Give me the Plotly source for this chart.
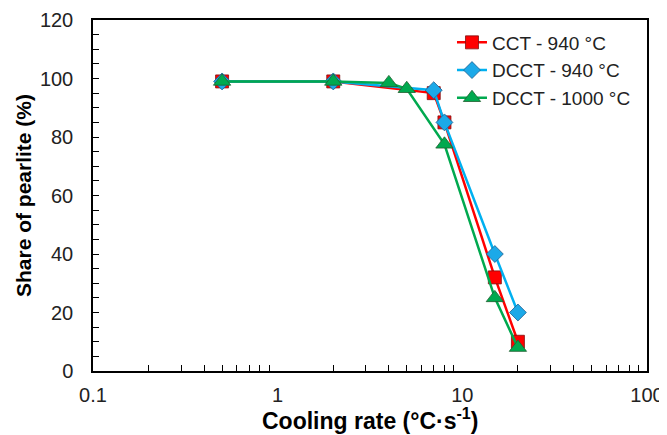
import plotly.graph_objects as go

cct_x = [0.5, 2, 7, 8, 15, 20]
cct_y = [99, 99, 95, 85, 32, 10]
d940_x = [0.5, 2, 7, 8, 15, 20]
d940_y = [99, 99, 96, 85, 40, 20]
d1000_x = [0.5, 2, 4, 5, 8, 15, 20]
d1000_y = [99, 99, 98.5, 96.5, 77.5, 25, 8]

x_ticks = [0.1, 1, 10, 100]
x_ticklabels = ["0.1", "1", "10", "100"]
x_minor = [m * d for d in (0.1, 1, 10) for m in range(2, 10)]
y_ticks = [0, 20, 40, 60, 80, 100, 120]

fig = go.Figure()
fig.add_trace(go.Scatter(x=cct_x, y=cct_y, name="CCT - 940 °C", mode="lines+markers",
                         line=dict(color="#FF0000", width=2.5),
                         marker=dict(symbol="square", size=13, color="#FF0000",
                                     line=dict(color="#7F1010", width=0.8))))
fig.add_trace(go.Scatter(x=d940_x, y=d940_y, name="DCCT - 940 °C", mode="lines+markers",
                         line=dict(color="#00B0F0", width=2.5),
                         marker=dict(symbol="diamond", size=13, color="#1CA9E8",
                                     line=dict(color="#1F5F8F", width=0.8))))
fig.add_trace(go.Scatter(x=d1000_x, y=d1000_y, name="DCCT - 1000 °C", mode="lines+markers",
                         line=dict(color="#00A94F", width=2.5),
                         marker=dict(symbol="triangle-up", size=15, color="#00A94F",
                                     line=dict(color="#1F5F2F", width=0.8))))

fig.add_annotation(text="<b>Cooling rate (°C·s<sup>-1</sup>)</b>", xref="paper", yref="paper",
                   x=0.5, y=-0.138, xanchor="center", yanchor="middle", showarrow=False,
                   font=dict(size=23, color="black"))

fig.update_layout(
    width=659, height=427,
    margin=dict(l=85, r=20, t=12, b=64),
    paper_bgcolor="white", plot_bgcolor="white",
    font=dict(family="Liberation Sans, Arial, sans-serif", color="#222222", size=20),
    showlegend=True,
    legend=dict(x=0.648, y=0.99, xanchor="left", yanchor="top",
                bgcolor="rgba(255,255,255,0)", font=dict(size=19, color="#222222"),
                tracegroupgap=0),
    xaxis=dict(type="log", range=[-1, 2], tickvals=x_ticks, ticktext=x_ticklabels,
               ticks="", showgrid=False, showline=True, linecolor="black", linewidth=1.5,
               mirror=True, zeroline=False, automargin=False, ticklabelstandoff=5,
               minor=dict(tickvals=x_minor, ticks="inside", ticklen=6, tickcolor="black",
                          tickwidth=1.2, showgrid=False)),
    yaxis=dict(range=[0, 120], tickvals=y_ticks, ticks="inside", ticklen=6,
               tickcolor="black", tickwidth=1.2, ticklabelstandoff=14,
               showgrid=False, showline=True, linecolor="black", linewidth=1.5,
               mirror=True, zeroline=False, automargin=False,
               minor=dict(dtick=5, ticks="inside", ticklen=6, tickcolor="black", tickwidth=1.2),
               title=dict(text="<b>Share of pearlite (%)</b>",
                          font=dict(size=21, color="black"), standoff=3)),
)

fig.write_html("out.html")
